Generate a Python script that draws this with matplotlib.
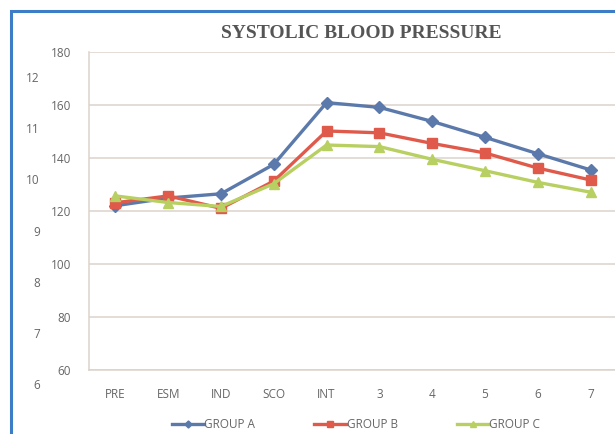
import matplotlib.pyplot as plt
from matplotlib.patches import Rectangle

stages = ['PRE', 'ESM', 'IND', 'SCO', 'INT', '3', '4', '5', '6', '7']
group_a = [122.0, 124.9, 126.5, 137.6, 160.9, 159.1, 153.8, 147.8, 141.6, 135.5]
group_b = [123.1, 125.7, 121.0, 131.3, 150.2, 149.5, 145.5, 141.9, 136.2, 131.7]
group_c = [125.7, 123.2, 121.7, 130.3, 144.9, 144.3, 139.5, 135.2, 130.8, 127.1]
y_ticks = [60, 80, 100, 120, 140, 160, 180]
ghost_ticks = [6, 7, 8, 9, 10, 11, 12]

W, H = 615, 434
fig = plt.figure(figsize=(W / 100, H / 100), dpi=100)
fig.patch.set_facecolor('white')

# blue frame of the pasted chart
fig.patches.append(Rectangle((11 / W, -0.05), 1.2, 1 - 11 / H + 0.05, transform=fig.transFigure,
                             fill=False, edgecolor='#3d7cc6', linewidth=2.2))

grid_col = '#dcd2ca'
tick_col = '#666666'
ax = fig.add_axes([89 / W, 1 - 370 / H, 528 / W, 318 / H])
x = list(range(len(stages)))
ax.plot(x, group_a, '-D', color='#5b7aab', lw=2.4, ms=6, label='GROUP A', zorder=3)
ax.plot(x, group_b, '-s', color='#e05a4b', lw=2.4, ms=7.5, label='GROUP B', zorder=4)
ax.plot(x, group_c, '-^', color='#b8cf62', lw=2.4, ms=7, label='GROUP C', zorder=5)

ax.set_xlim(-0.5, len(stages) - 0.5)
ax.set_ylim(60, 180)
ax.set_yticks(y_ticks)
ax.set_xticks(x)
ax.set_xticklabels(stages)
ax.grid(axis='y', color=grid_col, lw=1.1)
ax.set_axisbelow(True)
for side in ['top', 'right']:
    ax.spines[side].set_visible(False)
for side in ['left', 'bottom']:
    ax.spines[side].set_color(grid_col)
    ax.spines[side].set_linewidth(1.1)
ax.tick_params(axis='both', length=0, colors=tick_col, labelsize=8.5)
ax.tick_params(axis='x', pad=13)
ax.tick_params(axis='y', pad=13)
for lab in ax.get_xticklabels() + ax.get_yticklabels():
    lab.set_family('Open Sans')

ax.set_title('SYSTOLIC BLOOD PRESSURE', family='Liberation Serif', fontweight='bold',
             fontsize=14, color='#555555', pad=10, x=0.515)

# stray axis labels from the chart underneath
ax2 = fig.add_axes([40 / W, 1 - 410 / H, 10 / W, 358 / H])
ax2.set_ylim(6 - 26 / 51.2, 12 + 25 / 51.2)
ax2.set_yticks(ghost_ticks)
ax2.set_xticks([])
for s in ax2.spines.values():
    s.set_visible(False)
ax2.patch.set_alpha(0)
ax2.tick_params(axis='y', length=0, colors=tick_col, labelsize=8.5, pad=0)
for lab in ax2.get_yticklabels():
    lab.set_family('Open Sans')

handles, labels = ax.get_legend_handles_labels()
fig.legend(handles, labels, loc='center', bbox_to_anchor=(356 / W, 1 - 425 / H), ncol=3,
           frameon=False, handlelength=2.7, handletextpad=0.05,
           columnspacing=5.0, markerscale=0.6, labelcolor=tick_col,
           prop={'family': 'Open Sans', 'size': 8.5})

fig.savefig('out.png', dpi=100)
